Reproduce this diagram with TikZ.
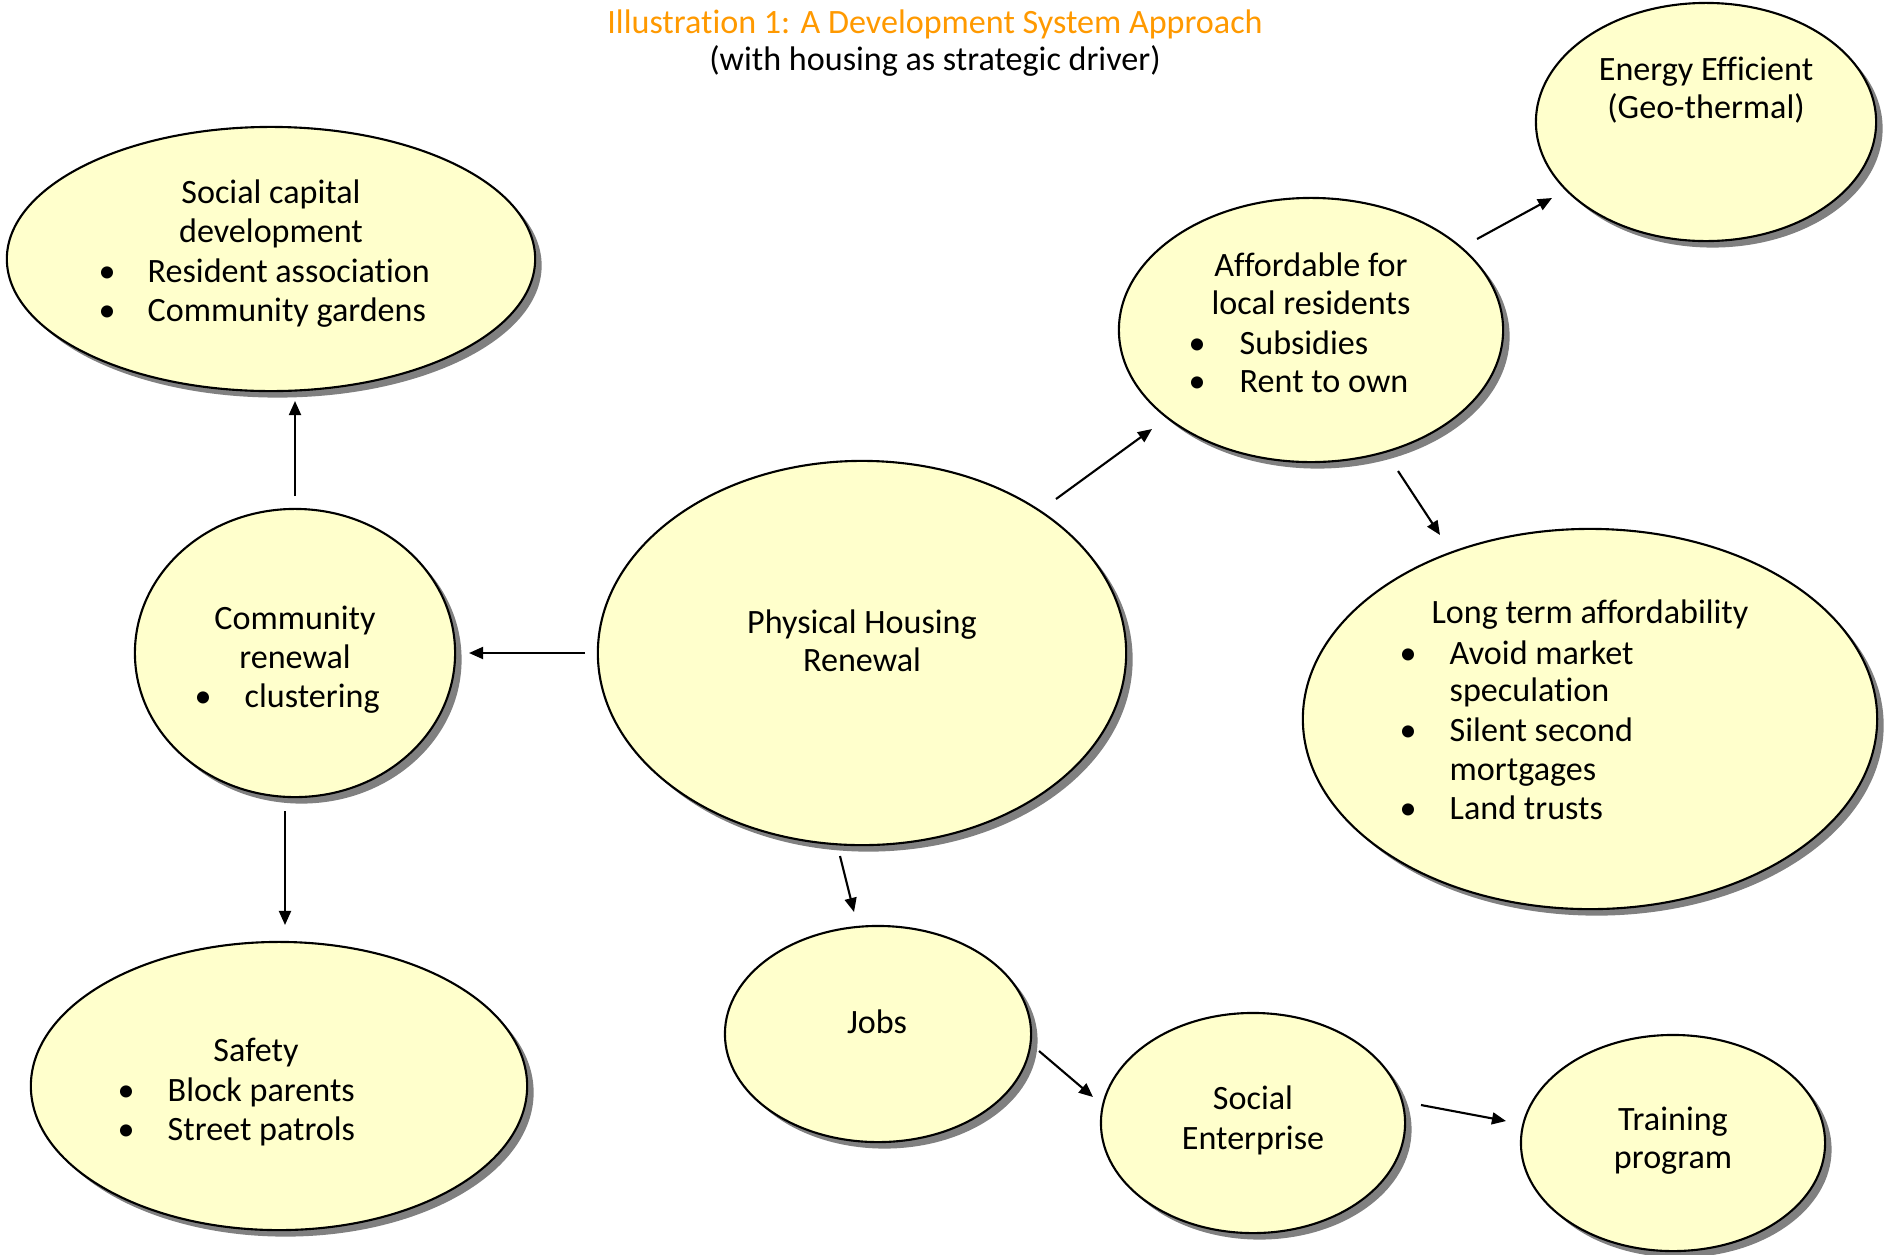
\documentclass[tikz,border=0pt]{standalone}
\usepackage{fontspec}
\setmainfont{Carlito}[Ligatures=NoCommon]
\usetikzlibrary{shapes.geometric,shadows,arrows.meta}
\definecolor{ellfill}{HTML}{FFFFCC}
\definecolor{titleorange}{HTML}{FF9900}
\begin{document}
\begin{tikzpicture}[x=0.01cm,y=-0.01cm,
  ell/.style={ellipse,draw=black,line width=0.6pt,fill=ellfill,inner sep=0pt,outer sep=0pt,
    drop shadow={shadow xshift=0.065cm,shadow yshift=-0.065cm,fill=black!50,opacity=1}},
  t/.style={font=\fontsize{9.7}{11.5}\selectfont,anchor=base,inner sep=0pt},
  tl/.style={t,anchor=base west},
  bul/.style={t,anchor=base},
  arr/.style={line width=0.6pt,-{Triangle[length=4pt,width=3.4pt]}}]
\useasboundingbox (0,0) rectangle (1886,1254);
% ellipses
\node[ell,minimum width=5.28cm,minimum height=2.64cm] (soc) at (271,259) {};
\node[ell,minimum width=3.20cm,minimum height=2.88cm] (com) at (295,653) {};
\node[ell,minimum width=5.28cm,minimum height=3.84cm] (phy) at (862,653) {};
\node[ell,minimum width=3.84cm,minimum height=2.64cm] (aff) at (1311,330) {};
\node[ell,minimum width=3.40cm,minimum height=2.38cm] (ene) at (1706,122) {};
\node[ell,minimum width=5.74cm,minimum height=3.80cm] (lon) at (1590,719) {};
\node[ell,minimum width=4.96cm,minimum height=2.88cm] (saf) at (279,1086) {};
\node[ell,minimum width=3.06cm,minimum height=2.16cm] (job) at (878,1034) {};
\node[ell,minimum width=3.04cm,minimum height=2.20cm] (sen) at (1253,1123) {};
\node[ell,minimum width=3.04cm,minimum height=2.16cm] (tra) at (1673,1143) {};
% title
\node[t,text=titleorange] (title1) at (935,33) {Illustration 1: A Development System Approach};
\node[t] (title2) at (935,70) {(with housing as strategic driver)};
% social capital
\node[t] (soc1) at (271,203) {Social capital};
\node[t] (soc2) at (271,242) {development};
\node[bul] (socb1) at (107,282) {\textbullet};
\node[tl] (soc3) at (147,282) {Resident association};
\node[bul] (socb2) at (107,321) {\textbullet};
\node[tl] (soc4) at (147,321) {Community gardens};
% community renewal
\node[t] (com1) at (295,629) {Community};
\node[t] (com2) at (295,668) {renewal};
\node[bul] (comb1) at (203,707) {\textbullet};
\node[tl] (com3) at (244,707) {clustering};
% physical
\node[t] (phy1) at (862,633) {Physical Housing};
\node[t] (phy2) at (862,671) {Renewal};
% affordable
\node[t] (aff1) at (1311,276) {Affordable for};
\node[t] (aff2) at (1311,314) {local residents};
\node[bul] (affb1) at (1197,354) {\textbullet};
\node[tl] (aff3) at (1239,354) {Subsidies};
\node[bul] (affb2) at (1197,392) {\textbullet};
\node[tl] (aff4) at (1239,392) {Rent to own};
% energy
\node[t] (ene1) at (1706,80) {Energy Efficient};
\node[t] (ene2) at (1706,118) {(Geo-thermal)};
% long term
\node[t] (lon1) at (1590,623) {Long term affordability};
\node[bul] (lonb1) at (1408,664) {\textbullet};
\node[tl] (lon2) at (1449,664) {Avoid market};
\node[tl] (lon3) at (1449,701) {speculation};
\node[bul] (lonb2) at (1408,741) {\textbullet};
\node[tl] (lon4) at (1449,741) {Silent second};
\node[tl] (lon5) at (1449,780) {mortgages};
\node[bul] (lonb3) at (1408,819) {\textbullet};
\node[tl] (lon6) at (1449,819) {Land trusts};
% safety
\node[t] (saf1) at (256,1061) {Safety};
\node[bul] (safb1) at (126,1101) {\textbullet};
\node[tl] (saf2) at (167,1101) {Block parents};
\node[bul] (safb2) at (126,1140) {\textbullet};
\node[tl] (saf3) at (167,1140) {Street patrols};
% jobs
\node[t] (job1) at (877,1033) {Jobs};
% social enterprise
\node[t] (sen1) at (1253,1109) {Social};
\node[t] (sen2) at (1253,1149) {Enterprise};
% training
\node[t] (tra1) at (1673,1130) {Training};
\node[t] (tra2) at (1673,1168) {program};
% arrow endpoints
\coordinate (a1s) at (295,496); \coordinate (a1e) at (295,401);
\coordinate (a2s) at (585,653); \coordinate (a2e) at (469,653);
\coordinate (a3s) at (285,811); \coordinate (a3e) at (285,925);
\coordinate (a4s) at (1056,499); \coordinate (a4e) at (1152,429);
\coordinate (a5s) at (1477,239); \coordinate (a5e) at (1552,198);
\coordinate (a6s) at (1398,471); \coordinate (a6e) at (1440,535);
\coordinate (a7s) at (840,856); \coordinate (a7e) at (854,912);
\coordinate (a8s) at (1039,1051); \coordinate (a8e) at (1093,1097);
\coordinate (a9s) at (1421,1105); \coordinate (a9e) at (1506,1121);
\draw[arr] (a1s) -- (a1e);
\draw[arr] (a2s) -- (a2e);
\draw[arr] (a3s) -- (a3e);
\draw[arr] (a4s) -- (a4e);
\draw[arr] (a5s) -- (a5e);
\draw[arr] (a6s) -- (a6e);
\draw[arr] (a7s) -- (a7e);
\draw[arr] (a8s) -- (a8e);
\draw[arr] (a9s) -- (a9e);
\end{tikzpicture}
\end{document}
